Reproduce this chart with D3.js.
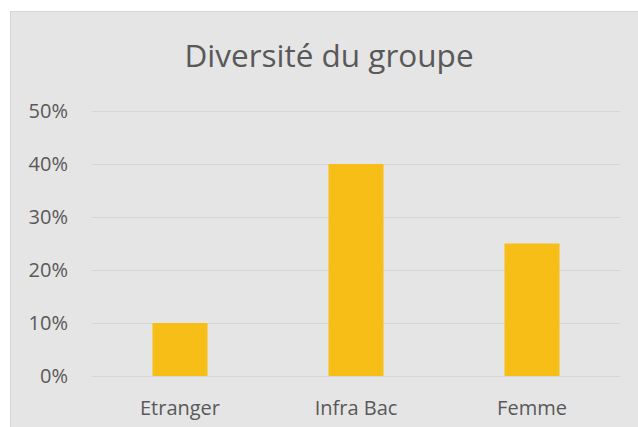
<!DOCTYPE html>
<html>
<head>
<meta charset="utf-8">
<script src="https://cdn.jsdelivr.net/npm/d3@7"></script>
<style>
  html, body { margin: 0; padding: 0; background: #fff; }
  svg { display: block; font-family: "Open Sans", sans-serif; }
</style>
</head>
<body>
<svg id="chart" width="638" height="427"></svg>
<script>
const title = "Diversité du groupe";
const categories = ["Etranger", "Infra Bac", "Femme"];
const values = [0.10, 0.40, 0.25];
const yTicks = [0, 0.1, 0.2, 0.3, 0.4, 0.5];

const svg = d3.select("#chart");
const textColor = "#595959";

// chart area box (runs off the right and bottom edges)
svg.append("rect")
   .attr("x", 10.5)
   .attr("y", 11.5)
   .attr("width", 650)
   .attr("height", 440)
   .attr("fill", "#e5e5e5")
   .attr("stroke", "#d6d6d6");

svg.append("text")
   .attr("x", 329)
   .attr("y", 67)
   .attr("text-anchor", "middle")
   .attr("font-size", 31.5)
   .attr("fill", textColor)
   .text(title);

const x = d3.scaleBand()
            .domain(categories)
            .range([92, 620])
            .paddingInner(0.6875)
            .paddingOuter(0.34375);

const y = d3.scaleLinear()
            .domain([0, 0.5])
            .range([376, 111]);

// gridlines
svg.append("g")
   .selectAll("line")
   .data(yTicks)
   .join("line")
   .attr("x1", 92)
   .attr("x2", 620)
   .attr("y1", d => Math.round(y(d)) + 0.5)
   .attr("y2", d => Math.round(y(d)) + 0.5)
   .attr("stroke", "#d5d5d5")
   .attr("stroke-width", 1.2);

// y axis labels
const yAxis = g => g
  .attr("transform", "translate(92,0)")
  .call(d3.axisLeft(y).tickValues(yTicks).tickFormat(d3.format(".0%")).tickSize(0).tickPadding(24))
  .call(g => g.select(".domain").remove())
  .call(g => g.selectAll("text")
      .attr("font-size", 20)
      .attr("font-family", "Open Sans, sans-serif")
      .attr("fill", textColor));

svg.append("g").call(yAxis);

// bars
svg.append("g")
   .attr("fill", "#f6be17")
   .selectAll("rect")
   .data(values)
   .join("rect")
   .attr("x", (d, i) => x(categories[i]))
   .attr("width", x.bandwidth())
   .attr("y", d => y(d))
   .attr("height", d => y(0) - y(d));

// x axis labels
const xAxis = g => g
  .attr("transform", "translate(0,376)")
  .call(d3.axisBottom(x).tickSize(0).tickPadding(25))
  .call(g => g.select(".domain").remove())
  .call(g => g.selectAll("text")
      .attr("font-size", 20)
      .attr("font-family", "Open Sans, sans-serif")
      .attr("fill", textColor));

svg.append("g").call(xAxis);
</script>
</body>
</html>
